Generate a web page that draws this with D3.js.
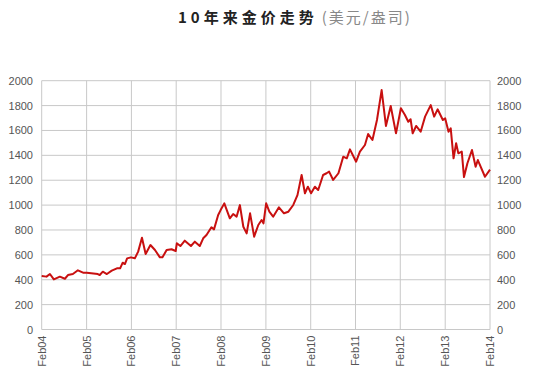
<!DOCTYPE html>
<html><head><meta charset="utf-8">
<script src="https://cdn.jsdelivr.net/npm/d3@7"></script>
<style>
body{margin:0;background:#fff;}
text{font-family:"Liberation Sans",Arial,sans-serif;}
</style></head>
<body><svg id="c" width="550" height="379"></svg>
<script>
const titleMain = "10年来金价走势";
const titleUnit = "(美元/盎司)";
const xTickLabels = ["Feb04","Feb05","Feb06","Feb07","Feb08","Feb09","Feb10","Feb11","Feb12","Feb13","Feb14"];
const yTicks = [0,200,400,600,800,1000,1200,1400,1600,1800,2000];
const dates = ["2004-02-01","2004-03-11","2004-04-08","2004-05-10","2004-06-28","2004-08-08","2004-09-02","2004-10-12","2004-11-22","2005-01-03",
"2005-02-02","2005-05-03","2005-05-19","2005-06-13","2005-07-16","2005-08-25","2005-10-06","2005-11-01","2005-11-22","2005-12-10",
"2005-12-28","2006-01-28","2006-03-01","2006-03-28","2006-04-28","2006-05-28","2006-07-06","2006-08-12","2006-09-21","2006-10-12",
"2006-11-15","2006-12-25","2007-01-28","2007-02-06","2007-03-07","2007-04-12","2007-06-01","2007-07-03","2007-08-12","2007-09-09",
"2007-10-06","2007-11-15","2007-12-06","2008-01-09","2008-01-29","2008-02-28","2008-04-13","2008-05-10","2008-06-07","2008-07-04",
"2008-08-01","2008-08-28","2008-09-25","2008-10-28","2008-12-01","2008-12-28","2009-01-12","2009-02-03","2009-03-01","2009-04-01",
"2009-05-18","2009-06-28","2009-08-03","2009-09-12","2009-10-16","2009-11-19","2009-12-16","2010-01-09","2010-02-04","2010-03-07",
"2010-04-03","2010-05-13","2010-06-10","2010-07-01","2010-08-03","2010-09-15","2010-10-24","2010-11-22","2010-12-18","2011-02-06",
"2011-03-09","2011-04-19","2011-05-15","2011-06-19","2011-07-26","2011-09-02","2011-10-07","2011-11-15","2011-12-28","2012-02-06",
"2012-03-10","2012-04-06","2012-04-25","2012-05-12","2012-06-09","2012-07-16","2012-08-21","2012-10-06","2012-11-03","2012-12-01",
"2013-01-13","2013-02-01","2013-02-28","2013-03-18","2013-04-10","2013-05-01","2013-05-19","2013-06-16","2013-07-04","2013-08-01",
"2013-09-07","2013-10-07","2013-10-25","2013-12-22","2014-02-01"];
const prices = [430,425,446,403,425,408,438,446,476,457,
457,446,438,465,446,473,492,492,537,526,
572,580,572,626,738,607,679,639,580,580,
639,645,631,693,671,714,671,706,671,733,
760,822,805,920,960,1014,894,928,907,1000,
826,773,934,746,840,880,853,1014,947,907,
982,934,947,1001,1080,1242,1095,1148,1095,1148,
1121,1242,1256,1269,1202,1256,1389,1376,1448,1349,
1430,1483,1571,1523,1684,1925,1636,1797,1577,1778,
1724,1670,1690,1577,1636,1590,1711,1804,1711,1770,
1684,1697,1590,1617,1376,1497,1416,1430,1225,1336,
1443,1309,1362,1228,1285];

const parse = d3.timeParse("%Y-%m-%d");
const data = dates.map((d,i)=>({date:parse(d), v:prices[i]}));
const svg = d3.select("#c");
const L=41.7, R=490, T=80.7, B=329.5;
const x = d3.scaleTime().domain([parse("2004-02-01"), parse("2014-02-01")]).range([L,R]);
const y = d3.scaleLinear().domain([0,2000]).range([B,T]);
const tickDates = xTickLabels.map((s,i)=>new Date(2004+i,1,1));

// grid
const grid = svg.append("g").attr("stroke","#c8c8c8").attr("stroke-width",1);
grid.selectAll("line.h").data(yTicks).join("line")
  .attr("x1",L).attr("x2",R).attr("y1",d=>y(d)).attr("y2",d=>y(d));
grid.selectAll("line.v").data(tickDates).join("line")
  .attr("x1",d=>x(d)).attr("x2",d=>x(d)).attr("y1",T).attr("y2",B);

// y labels
const lab = svg.append("g").attr("fill","#555").attr("font-size",11);
lab.selectAll("text.l").data(yTicks).join("text")
  .attr("x",33).attr("y",d=>y(d)+4).attr("text-anchor","end").text(d=>d);
lab.selectAll("text.r").data(yTicks).join("text").attr("class","r")
  .attr("x",497).attr("y",d=>y(d)+4).attr("text-anchor","start").text(d=>d);
// x labels
lab.selectAll("text.x").data(tickDates).join("text").attr("class","x")
  .attr("transform",d=>`translate(${x(d)+4},${B+6}) rotate(-90)`)
  .attr("text-anchor","end").text((d,i)=>xTickLabels[i]);

// line
svg.append("path").datum(data)
  .attr("fill","none").attr("stroke","#c81010").attr("stroke-width",2).attr("stroke-linejoin","round")
  .attr("d", d3.line().x(d=>x(d.date)).y(d=>y(d.v)));

// title
const t = svg.append("text").attr("x",178).attr("y",23).attr("font-size",15);
t.append("tspan").attr("font-weight","bold").attr("fill","#222").attr("letter-spacing","4px")
  .style("font-family","'Noto Sans CJK SC',sans-serif").text(titleMain);
t.append("tspan").attr("fill","#888").attr("letter-spacing","2px").attr("dx",4)
  .style("font-family","'Noto Sans CJK SC',sans-serif").text(titleUnit);
</script></body></html>
